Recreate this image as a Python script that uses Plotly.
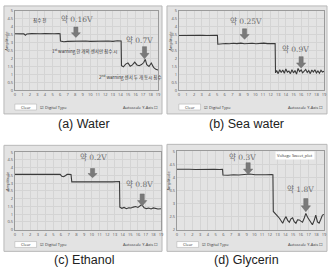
import plotly.graph_objects as go

# ---------------- data ----------------
a_x = [0, 0.6, 1.2, 1.4, 1.6, 2.2, 2.8, 3.4, 4.0, 4.6, 5.2, 5.8, 6.0,
       6.05, 6.5, 7.0, 7.6, 8.2, 8.8, 9.4, 10.0, 10.6, 11.2, 11.8, 12.4, 13.0, 13.6, 14.1,
       14.15, 14.4, 14.7, 15.0, 15.3, 15.6, 15.9, 16.2, 16.5, 16.8, 17.1, 17.3, 17.5, 17.8,
       18.1, 18.4, 18.7, 19.0]
a_y = [3.56, 3.57, 3.55, 3.47, 3.55, 3.57, 3.55, 3.56, 3.57, 3.55, 3.56, 3.57, 3.56,
       3.10, 3.06, 3.08, 3.09, 3.07, 3.09, 3.10, 3.08, 3.09, 3.07, 3.09, 3.10, 3.08, 3.12, 3.10,
       1.55, 1.48, 1.65, 1.72, 1.52, 1.60, 1.78, 1.60, 1.55, 1.62, 1.75, 1.95, 1.62, 1.50,
       1.72, 1.45, 1.32, 1.28]

b_x = [0, 0.6, 1.2, 1.8, 2.4, 3.0, 3.6, 4.2, 4.8, 5.05,
       5.1, 5.6, 6.1, 6.6, 7.1, 7.6, 8.1, 8.6, 9.1, 9.6, 10.1, 10.6, 11.1, 11.6, 12.1, 12.6,
       12.65,
       12.8, 13.0, 13.2, 13.4, 13.6, 13.8, 14.0, 14.2, 14.4, 14.6, 14.8, 15.0, 15.2, 15.4,
       15.6, 15.8, 16.0, 16.2, 16.4, 16.6, 16.8, 17.0, 17.2, 17.4, 17.6, 17.8, 18.0, 18.2,
       18.4, 18.6, 18.8, 19.0]
b_y = [3.45, 3.46, 3.47, 3.46, 3.47, 3.46, 3.45, 3.46, 3.47, 3.46,
       2.90, 2.93, 2.95, 2.93, 2.96, 2.94, 2.97, 2.93, 2.95, 2.96, 2.93, 2.95, 2.97, 2.94, 2.96, 2.95,
       1.10,
       1.25, 1.05, 1.30, 1.12, 1.28, 1.08, 1.35, 1.15, 1.22, 1.05, 1.30, 1.10, 1.25, 1.02,
       1.38, 1.18, 1.28, 1.10, 1.20, 1.32, 1.12, 1.25, 1.05, 1.28, 1.15, 1.30, 1.10, 1.22,
       1.08, 1.26, 1.15, 1.20]

c_x = [0, 0.7, 1.4, 2.1, 2.8, 3.5, 4.2, 4.9, 5.6, 5.9,
       6.1, 6.35, 6.6, 6.8, 7.0, 7.3,
       7.4, 7.9, 8.5, 9.1, 9.7, 10.3, 10.9, 11.5, 12.1, 12.7, 13.3, 13.6,
       13.65, 13.9, 14.2, 14.5, 14.8, 15.1, 15.4, 15.7, 16.0, 16.3, 16.5, 16.8, 17.1, 17.4,
       17.7, 18.0, 18.3, 18.6, 19.0]
c_y = [3.57, 3.58, 3.57, 3.56, 3.57, 3.58, 3.57, 3.56, 3.57, 3.57,
       3.45, 3.42, 3.50, 3.57, 3.58, 3.56,
       3.09, 3.10, 3.11, 3.09, 3.12, 3.10, 3.09, 3.11, 3.10, 3.09, 3.10, 3.11,
       1.45, 1.38, 1.44, 1.36, 1.42, 1.40, 1.46, 1.50, 1.44, 1.55, 1.62, 1.42, 1.36, 1.40,
       1.34, 1.41, 1.37, 1.34, 1.35]

d_x = [0, 0.8, 1.6, 2.4, 3.2, 4.0, 4.8, 5.5, 5.9,
       5.95, 6.6, 7.3, 8.0, 8.7, 9.4, 10.1, 10.8, 11.5, 12.2, 12.4,
       12.45, 12.7, 13.0, 13.24, 13.45, 13.66, 13.88, 14.09, 14.3, 14.52, 14.73, 14.94, 15.15,
       15.37, 15.58, 15.8, 16.0, 16.22, 16.45, 16.65, 16.87, 17.08, 17.3, 17.5, 17.72, 17.93,
       18.15, 18.36, 18.58, 18.79, 19.0]
d_y = [4.31, 4.32, 4.31, 4.30, 4.31, 4.32, 4.31, 4.30, 4.31,
       4.09, 4.08, 4.10, 4.09, 4.11, 4.13, 4.10, 4.09, 4.10, 4.11, 4.10,
       2.70, 2.60, 2.52, 2.44, 2.33, 2.25, 2.40, 2.50, 2.36, 2.29, 2.42, 2.46, 2.31,
       2.25, 2.38, 2.375, 2.33, 2.29, 2.45, 2.625, 2.48, 2.375, 2.26, 2.19, 2.35, 2.56,
       2.30, 2.25, 2.40, 2.56, 2.58]

captions = ["(a) Water", "(b) Sea water", "(c) Ethanol", "(d) Glycerin"]
y_ranges = [(0, 5), (0, 5), (0, 5), (2, 5)]

# annotation labels:  (text, x, y)
drop_labels = [
    [("약 0.16V", 8.3, 4.5), ("약 0.7V", 16.5, 3.17)],
    [("약 0.25V", 8.8, 4.36), ("약 0.9V", 15.3, 2.62)],
    [("약 0.2V", 10.2, 4.7), ("약 0.8V", 16.2, 2.96)],
    [("약 0.3V", 8.5, 4.77), ("약 1.8V", 16.0, 3.56)],
]
# arrows: (x, tail y, tip y)
arrows = [
    [(8.1, 3.98, 3.33), (17.2, 2.75, 1.98)],
    [(8.6, 3.87, 3.21), (16.0, 2.12, 1.40)],
    [(10.1, 3.95, 3.36), (16.55, 2.31, 1.53)],
    [(9.2, 4.56, 4.12), (16.65, 3.19, 2.69)],
]
notes_a = [("침수 전", 3.3, 4.38), ("1<sup>st</sup> warning 한 개의 센서만 침수 시", 9.3, 2.47),
           ("2<sup>nd</sup> warning 센서 두 개 동시 침수", 15.4, 0.85)]

series = [(a_x, a_y), (b_x, b_y), (c_x, c_y), (d_x, d_y)]

# ---------------- layout geometry (pixels) ----------------
W, H = 331, 272
plot_px = [(14, 159, 8, 89), (180, 327, 8, 89), (14, 162, 152, 231), (178, 327, 151, 231)]
frame_px = [(3, 163, 3, 113), (168, 330, 3, 113), (3, 163, 145, 253), (168, 330, 144, 253)]
caption_px = [(84, 123), (249, 123), (84, 262), (249, 262)]

def px(x): return x / W
def py(y): return 1 - y / H

fig = go.Figure()
shapes = []
annotations = []
layout_axes = {}

for i, (xs, ys) in enumerate(series):
    n = "" if i == 0 else str(i + 1)
    xa, ya = "x" + n, "y" + n
    fig.add_trace(go.Scatter(x=xs, y=ys, mode="lines", xaxis=xa, yaxis=ya,
                             line=dict(color="#3a3a3a", width=1.1), hoverinfo="skip"))
    l, r, t, b = plot_px[i]
    y0, y1 = y_ranges[i]
    layout_axes["xaxis" + n] = dict(domain=[px(l), px(r)], range=[0, 19], anchor=ya,
                                    dtick=1, tick0=0, showgrid=True, gridcolor="#d4d4d4",
                                    gridwidth=1, zeroline=False, showline=True,
                                    linecolor="#9a9a9a", mirror=True, ticks="",
                                    tickfont=dict(size=4, color="#555"), fixedrange=True)
    layout_axes["yaxis" + n] = dict(domain=[py(b), py(t)], range=[y0, y1], anchor=xa,
                                    dtick=0.5, tick0=0, showgrid=True, gridcolor="#d4d4d4",
                                    gridwidth=1, zeroline=False, showline=True,
                                    linecolor="#9a9a9a", mirror=True, ticks="",
                                    tickfont=dict(size=4, color="#555"), fixedrange=True)
    fl, fr, ft, fb = frame_px[i]
    shapes.append(dict(type="rect", xref="paper", yref="paper", x0=px(fl), x1=px(fr),
                       y0=py(fb), y1=py(ft), fillcolor="#e3e3e3",
                       line=dict(color="#b8b8b8", width=1), layer="below"))
    # bottom controls
    shapes.append(dict(type="rect", xref="paper", yref="paper", x0=px(l), x1=px(l + 22),
                       y0=py(fb - 4), y1=py(fb - 10), fillcolor="white",
                       line=dict(color="#aaa", width=0.5)))
    annotations.append(dict(text="Clear", xref="paper", yref="paper", x=px(l + 11),
                            y=py(fb - 7), xanchor="center", yanchor="middle",
                            showarrow=False, font=dict(size=4, color="#333")))
    annotations.append(dict(text="☑ Digital Type", xref="paper", yref="paper", x=px(l + 23),
                            y=py(fb - 7), xanchor="left", yanchor="middle", showarrow=False,
                            font=dict(size=4, color="#333")))
    annotations.append(dict(text="Autoscale Y-Axis ☐", xref="paper", yref="paper",
                            x=px(fr - 2), y=py(fb - 7), xanchor="right", yanchor="middle",
                            showarrow=False, font=dict(size=4, color="#333")))
    annotations.append(dict(text="Amplitude", xref="paper", yref="paper", x=px(l - 8),
                            y=py((t + b) / 2 - 10), xanchor="center", yanchor="middle",
                            textangle=-90, showarrow=False,
                            font=dict(size=4, color="#444")))
    cx, cy = caption_px[i]
    annotations.append(dict(text=captions[i], xref="paper", yref="paper", x=px(cx), y=py(cy),
                            xanchor="center", yanchor="middle", showarrow=False,
                            font=dict(size=12.5, color="#222", family="Liberation Sans")))
    for (txt, tx, ty) in drop_labels[i]:
        annotations.append(dict(text=txt, xref=xa, yref=ya, x=tx, y=ty, showarrow=False,
                                xanchor="center", yanchor="middle",
                                font=dict(size=7.5, color="#6a6a6a",
                                          family="DejaVu Serif, Noto Sans CJK KR")))
    # block arrows built from the arrow specs
    for (ax_, tail, tip) in arrows[i]:
        hw, hh = 0.27, 0.6
        neck = tip + 0.45 * (tail - tip)
        path = (f"M {ax_-hw},{tail} L {ax_+hw},{tail} L {ax_+hw},{neck} L {ax_+hh},{neck} "
                f"L {ax_},{tip} L {ax_-hh},{neck} L {ax_-hw},{neck} Z")
        shapes.append(dict(type="path", xref=xa, yref=ya, path=path, fillcolor="#7a7a7a",
                           line=dict(color="#6a6a6a", width=0.5), layer="above"))

for (txt, tx, ty) in notes_a:
    annotations.append(dict(text=txt, xref="x", yref="y", x=tx, y=ty, showarrow=False,
                            xanchor="center", yanchor="middle",
                            font=dict(size=4.5, color="#333", family="Noto Sans CJK KR")))

annotations.append(dict(text="Voltage Sweet_plot", xref="paper", yref="paper",
                        x=px(318), y=py(155), xanchor="right", yanchor="middle",
                        showarrow=False, bgcolor="white", font=dict(size=4, color="#333")))

fig.update_layout(width=W, height=H, margin=dict(l=0, r=0, t=0, b=0),
                  paper_bgcolor="white", plot_bgcolor="white", showlegend=False,
                  shapes=shapes, annotations=annotations, **layout_axes)

fig.write_html("out.html", config={"displayModeBar": False})
